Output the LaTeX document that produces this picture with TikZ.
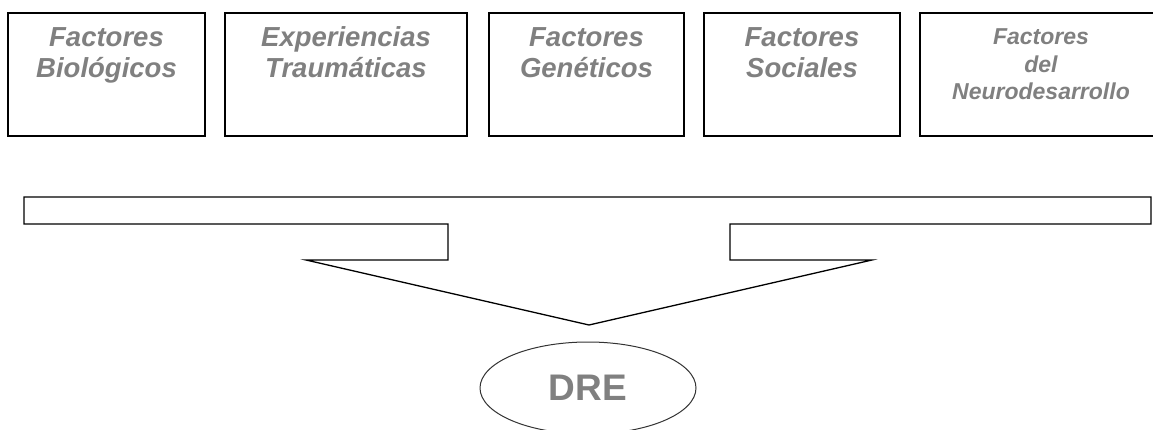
\documentclass[tikz,border=0pt]{standalone}
\usepackage{fontspec}
\setmainfont{Liberation Sans}
\usetikzlibrary{shapes.geometric}
\definecolor{txtgray}{HTML}{808080}
\definecolor{ellgray}{HTML}{333333}
\begin{document}
\begin{tikzpicture}[x=1pt,y=-1pt,
  factbox/.style={draw=black, line width=2pt, minimum height=123pt, inner sep=0pt},
  facttext/.style={text=txtgray, anchor=base, align=center, inner sep=0pt,
    font=\fontsize{27.5}{31}\selectfont\bfseries\itshape},
  facttextsmall/.style={text=txtgray, anchor=base, align=center, inner sep=0pt,
    font=\fontsize{23}{27.5}\selectfont\bfseries\itshape},
  outcome/.style={ellipse, draw=ellgray, line width=1pt, minimum width=216pt, minimum height=92pt, inner sep=0pt,
    text=txtgray, font=\fontsize{37}{40}\selectfont\bfseries}
]
\useasboundingbox (0,0) rectangle (1153,430);
% factor boxes
\node[factbox, minimum width=197pt] (b1) at (106.5,74.5) {};
\node[factbox, minimum width=242pt] (b2) at (346,74.5) {};
\node[factbox, minimum width=195pt] (b3) at (586.5,74.5) {};
\node[factbox, minimum width=196pt] (b4) at (802,74.5) {};
\node[factbox, minimum width=242pt] (b5) at (1041,74.5) {};
% texts (anchor = baseline of the last line)
\node[facttext] (t1) at (106.5,78) {Factores\\Biológicos};
\node[facttext] (t2) at (346,78) {Experiencias\\Traumáticas};
\node[facttext] (t3) at (586.5,78) {Factores\\Genéticos};
\node[facttext] (t4) at (802,78) {Factores\\Sociales};
\node[facttextsmall] (t5) at (1041,100) {Factores\\del\\Neurodesarrollo};
% callout arrow shape
\coordinate (tip) at (589,325);
\draw[line width=1.3pt, line join=miter]
  (24,197) -- (1151,197) -- (1151,224) -- (730,224) -- (730,260) -- (872,260)
  -- (tip) -- (306,260) -- (448,260) -- (448,224) -- (24,224) -- cycle;
% outcome
\node[outcome] (dre) at (588,388) {DRE};
\end{tikzpicture}
\end{document}
